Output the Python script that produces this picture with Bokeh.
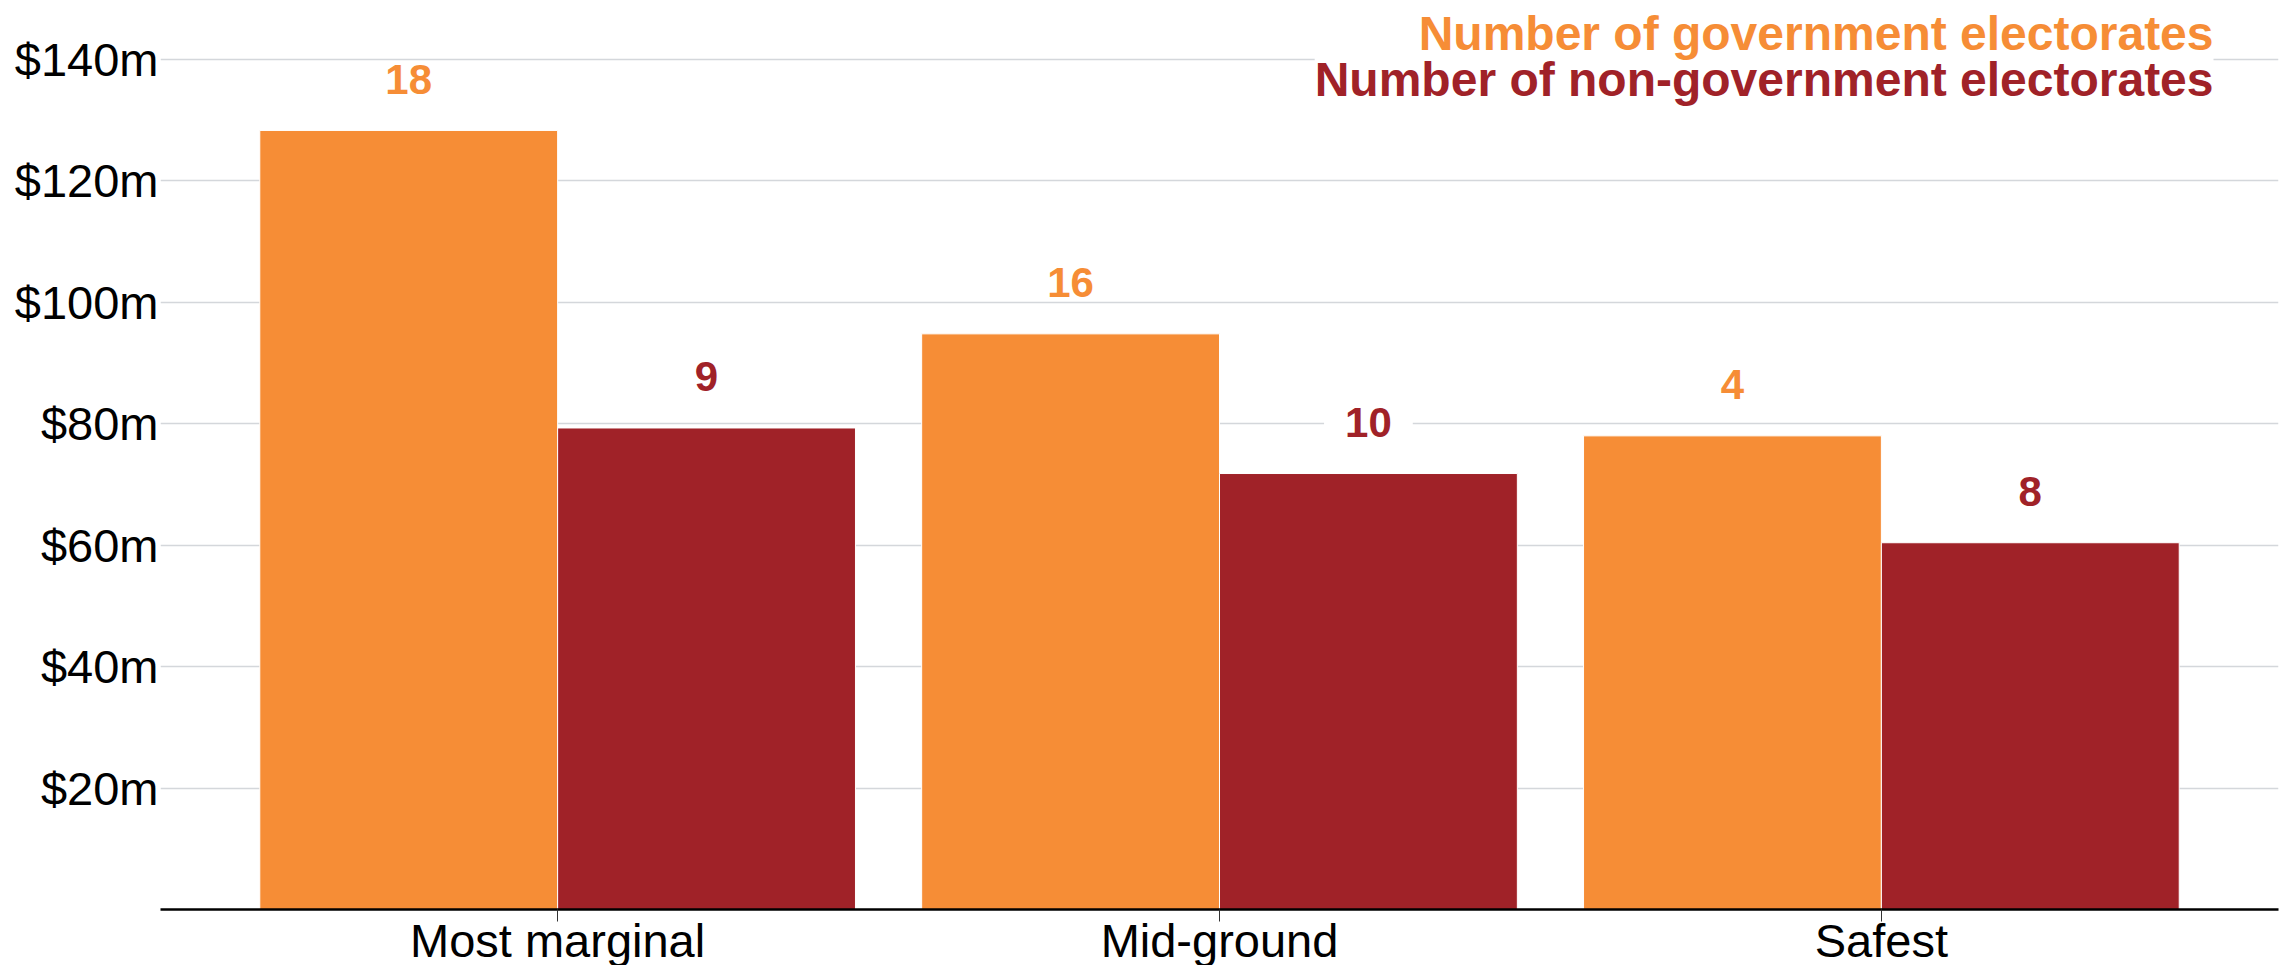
from bokeh.plotting import figure
from bokeh.models import ColumnDataSource, FactorRange, Range1d, FixedTicker, Label
from bokeh.transform import dodge
from bokeh.core.properties import value
from bokeh.embed import file_html
from bokeh.resources import INLINE

# Funding ($m) by electorate margin, split by government / non-government seats
categories = ["Most marginal", "Mid-ground", "Safest"]
gov_funding = [128.3, 94.8, 78.0]
nongov_funding = [79.3, 71.8, 60.4]
gov_seats = [18, 16, 4]
nongov_seats = [9, 10, 8]

y_ticks = [20, 40, 60, 80, 100, 120, 140]
y_tick_labels = ["$20m", "$40m", "$60m", "$80m", "$100m", "$120m", "$140m"]

gov_legend = "Number of government electorates"
nongov_legend = "Number of non-government electorates"

GOV = "#F68D36"
NONGOV = "#A02228"
FONT = "Liberation Sans"

source = ColumnDataSource(dict(
    cat=categories,
    gov=gov_funding,
    nongov=nongov_funding,
    gov_n=[str(v) for v in gov_seats],
    nongov_n=[str(v) for v in nongov_seats],
))

p = figure(
    width=2287, height=965,
    frame_width=2118, frame_height=909,
    x_range=FactorRange(factors=categories, range_padding=0.2 / 3),
    y_range=Range1d(0, 149.7),
    output_backend="svg", toolbar_location=None,
    min_border_left=160, min_border_right=9,
    min_border_top=0, min_border_bottom=50,
)
p.outline_line_color = None
p.background_fill_color = "white"
p.border_fill_color = "white"

# bars
p.vbar(x=dodge("cat", -0.225, range=p.x_range), top="gov", width=0.45,
       source=source, fill_color=GOV, line_color="white", line_width=1)
p.vbar(x=dodge("cat", 0.225, range=p.x_range), top="nongov", width=0.45,
       source=source, fill_color=NONGOV, line_color="white", line_width=1)

# seat counts above each bar
count_style = dict(
    y_offset=-51, text_align="center", text_baseline="alphabetic",
    text_font=value(FONT), text_font_style="bold", text_font_size="42px",
    background_fill_color="white",
    padding=dict(left=21, right=21, top=2, bottom=2),
)
p.text(x=dodge("cat", -0.225, range=p.x_range), y="gov", text="gov_n",
       source=source, text_color=GOV, **count_style)
p.text(x=dodge("cat", 0.225, range=p.x_range), y="nongov", text="nongov_n",
       source=source, text_color=NONGOV, **count_style)

# x axis
xa = p.xaxis[0]
xa.axis_line_color = "black"
xa.axis_line_width = 2.5
xa.major_tick_out = 12
xa.major_tick_in = 0
xa.major_tick_line_color = "#333333"
xa.major_tick_line_width = 1
xa.major_label_standoff = -8
xa.major_label_text_font = FONT
xa.major_label_text_font_size = "47px"
xa.major_label_text_color = "black"

# y axis
ya = p.yaxis[0]
ya.ticker = FixedTicker(ticks=y_ticks)
ya.major_label_overrides = {t: lab for t, lab in zip(y_ticks, y_tick_labels)}
ya.axis_line_color = None
ya.major_tick_line_color = None
ya.minor_tick_line_color = None
ya.major_tick_out = 0
ya.major_tick_in = 0
ya.major_label_standoff = 2
ya.major_label_text_font = FONT
ya.major_label_text_font_size = "47px"
ya.major_label_text_color = "black"

p.xgrid.grid_line_color = None
p.ygrid.ticker = FixedTicker(ticks=y_ticks)
p.ygrid.grid_line_color = "#d4d7db"
p.ygrid.grid_line_width = 1.5

# legend lines, top right (lower line first so the upper one sits on top)
p.add_layout(Label(x=2053, y=830, x_units="screen", y_units="screen",
                   text=nongov_legend, text_align="right", text_baseline="alphabetic",
                   text_font=FONT, text_font_style="bold", text_font_size="48px",
                   text_color=NONGOV, background_fill_color="white"))
p.add_layout(Label(x=2053, y=876, x_units="screen", y_units="screen",
                   text=gov_legend, text_align="right", text_baseline="alphabetic",
                   text_font=FONT, text_font_style="bold", text_font_size="48px",
                   text_color=GOV))

open("out.html", "w").write(file_html(p, INLINE))
